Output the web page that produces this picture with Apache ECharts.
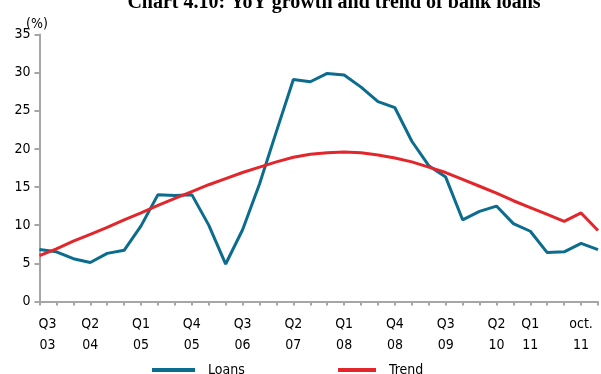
<!DOCTYPE html>
<html>
<head>
<meta charset="utf-8">
<script src="https://cdn.jsdelivr.net/npm/echarts@6/dist/echarts.min.js"></script>
<style>
html,body{margin:0;padding:0;background:#fff;}
#chart{width:601px;height:374px;}
</style>
</head>
<body>
<div id="chart"></div>
<script>
const titleText = 'Chart 4.10: YoY growth and trend of bank loans';
const unitLabel = '(%)';
const categories = ['Q3 03','Q4 03','Q1 04','Q2 04','Q3 04','Q4 04','Q1 05','Q2 05','Q3 05','Q4 05',
  'Q1 06','Q2 06','Q3 06','Q4 06','Q1 07','Q2 07','Q3 07','Q4 07','Q1 08','Q2 08',
  'Q3 08','Q4 08','Q1 09','Q2 09','Q3 09','Q4 09','Q1 10','Q2 10','Q3 10','Q4 10',
  'Q1 11','Q2 11','Q3 11','oct. 11'];
const tickLabels = ['Q3\n03','','','Q2\n04','','','Q1\n05','','','Q4\n05',
  '','','Q3\n06','','','Q2\n07','','','Q1\n08','',
  '','Q4\n08','','','Q3\n09','','','Q2\n10','','Q1\n11',
  '','','oct.\n11',''];
const loans = [6.8,6.5,5.6,5.1,6.3,6.7,9.9,14.0,13.9,14.0,
  10.0,4.9,9.4,15.4,22.3,29.1,28.8,29.9,29.7,28.1,
  26.2,25.4,21.0,17.8,16.3,10.7,11.8,12.5,10.2,9.2,
  6.4,6.5,7.6,6.8];
const trend = [6.0,6.9,7.9,8.8,9.7,10.7,11.6,12.6,13.5,14.4,
  15.3,16.1,16.9,17.6,18.3,18.9,19.3,19.5,19.6,19.5,
  19.2,18.8,18.3,17.6,16.9,16.0,15.1,14.2,13.2,12.3,
  11.4,10.5,11.6,9.3];
const yTicks = {min:0, max:35, interval:5};

const FONT = '"DejaVu Sans Condensed","Liberation Sans Narrow","DejaVu Sans",sans-serif';
const chart = echarts.init(document.getElementById('chart'), null, {renderer:'canvas'});
chart.setOption({
  animation:false,
  backgroundColor:'#ffffff',
  grid:{left:39.5, top:34.5, width:567.6, height:266.9, containLabel:false},
  graphic:[
    {type:'text', x:334, y:3, style:{text:titleText, fill:'#000', font:'bold 20px "Liberation Serif", serif', align:'center', verticalAlign:'middle'}},
    {type:'text', x:37, y:24, style:{text:unitLabel, fill:'#000', font:'14px ' + FONT, align:'center', verticalAlign:'middle'}}
  ],
  legend:[
    {left:152, top:363, padding:0, icon:'rect', itemWidth:43, itemHeight:4, data:['Loans'],
     textStyle:{fontFamily:FONT, fontSize:14, color:'#000', padding:[0,0,4,8]}},
    {left:338, top:363, padding:0, icon:'rect', itemWidth:38, itemHeight:4, data:['Trend'],
     textStyle:{fontFamily:FONT, fontSize:14, color:'#000', padding:[0,0,4,8]}}
  ],
  xAxis:{
    type:'category', data:categories, boundaryGap:false,
    axisLine:{lineStyle:{color:'#a6a6a6', width:2}},
    axisTick:{show:true, interval:0, length:4, lineStyle:{color:'#a6a6a6', width:2}},
    axisLabel:{interval:0, margin:12, fontFamily:FONT, fontSize:14, color:'#000', lineHeight:21,
      formatter:function(v,i){
        const t = tickLabels[i];
        if(i===0 && t){ return t.split('\n').map(s=>'{f|'+s+'}').join('\n'); }
        return t;
      },
      rich:{f:{fontFamily:FONT, fontSize:14, color:'#000', lineHeight:21, padding:[0,0,0,16]}}
    },
    splitLine:{show:false}
  },
  yAxis:{
    type:'value', min:yTicks.min, max:yTicks.max, interval:yTicks.interval,
    axisLine:{show:true, lineStyle:{color:'#a6a6a6', width:2}},
    axisTick:{show:true, length:5, lineStyle:{color:'#a6a6a6', width:2}},
    axisLabel:{margin:9, fontFamily:FONT, fontSize:14, color:'#000'},
    splitLine:{show:false}
  },
  series:[
    {name:'Loans', type:'line', data:loans, showSymbol:false, symbol:'none', z:2,
     lineStyle:{color:'#0b6c8e', width:3}, itemStyle:{color:'#0b6c8e'}},
    {name:'Trend', type:'line', data:trend, showSymbol:false, symbol:'none', z:3,
     lineStyle:{color:'#e3262b', width:3}, itemStyle:{color:'#e3262b'}}
  ]
});
</script>
</body>
</html>
